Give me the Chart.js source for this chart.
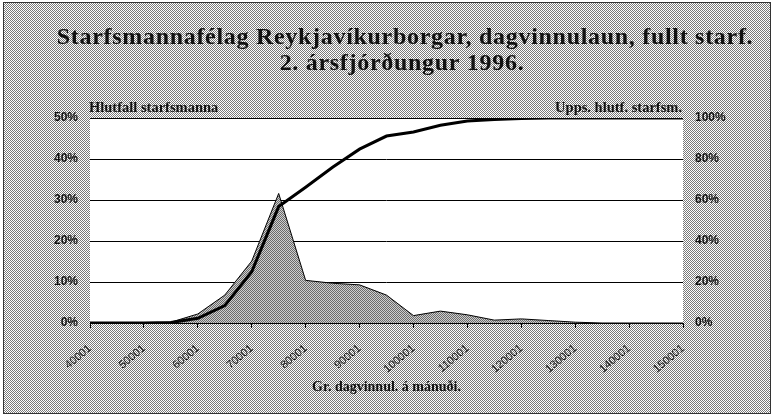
<!DOCTYPE html>
<html>
<head>
<meta charset="utf-8">
<script src="https://cdn.jsdelivr.net/npm/chart.js@4"></script>
<style>
  html, body { margin: 0; padding: 0; background: #fff; }
  canvas { display: block; }
</style>
</head>
<body>
<canvas id="c" width="774" height="416"></canvas>
<script>
// ---- data ----
const categories = ['40001','45001','50001','55001','60001','65001','70001','75001','80001','85001','90001','95001',
  '100001','105001','110001','115001','120001','125001','130001','135001','140001','145001','150001'];
const tickLabels = ['40001','50001','60001','70001','80001','90001','100001','110001','120001','130001','140001','150001'];
// Hlutfall starfsmanna (%) – area, left axis
const shareValues = [0, 0, 0, 0.2, 2.2, 6.8, 15.1, 31.6, 10.4, 9.7, 9.3, 6.8,
  1.8, 2.9, 2.0, 0.7, 1.0, 0.6, 0.2, 0, 0, 0, 0];
// Uppsafnað hlutfall starfsmanna (%) – line, right axis
const cumulativeValues = [0, 0, 0, 0.2, 2.3, 8.5, 25, 56.8, 66.2, 76, 84.8, 91.2,
  93.2, 96.5, 98.5, 99.3, 99.8, 100, 100, 100, 100, 100, 100];
const leftTicks = [0, 10, 20, 30, 40, 50];
const rightTicks = [0, 20, 40, 60, 80, 100];
const titleLines = ['Starfsmannafélag Reykjavíkurborgar, dagvinnulaun, fullt starf.', '2. ársfjórðungur 1996.'];
const leftAxisTitle = 'Hlutfall starfsmanna';
const rightAxisTitle = 'Upps. hlutf. starfsm.';
const xAxisTitle = 'Gr. dagvinnul. á mánuði.';

function makePattern(base, dot) {
  const cv = document.createElement('canvas');
  cv.width = 2; cv.height = 2;
  const x = cv.getContext('2d');
  x.fillStyle = base; x.fillRect(0, 0, 2, 2);
  x.fillStyle = dot; x.fillRect(0, 0, 1, 1); x.fillRect(1, 1, 1, 1);
  return x.createPattern(cv, 'repeat');
}
const bgPattern = makePattern('#ffffff', '#7a7a7a');
const areaPattern = makePattern('#cfcfcf', '#6a6a6a');

const serif = '"Liberation Serif", "Times New Roman", serif';
const sans = '"Liberation Sans", Arial, sans-serif';

const framePlugin = {
  id: 'frame',
  beforeDraw(chart) {
    const {ctx, chartArea: a} = chart;
    ctx.save();
    ctx.fillStyle = '#ffffff';
    ctx.fillRect(0, 0, chart.width, chart.height);
    ctx.fillStyle = bgPattern;
    ctx.fillRect(4, 3, 766, 410);
    ctx.strokeStyle = '#333';
    ctx.lineWidth = 1;
    ctx.strokeRect(3.5, 2.5, 767, 411);
    ctx.fillStyle = '#ffffff';
    ctx.fillRect(a.left, a.top, a.right - a.left, a.bottom - a.top);
    ctx.restore();
  },
  afterDraw(chart) {
    const {ctx, chartArea: a} = chart;
    ctx.save();
    ctx.fillStyle = '#111';
    ctx.textAlign = 'center';
    ctx.textBaseline = 'middle';
    ctx.font = 'bold 24px ' + serif;
    ctx.letterSpacing = '0.7px';
    ctx.fillText(titleLines[0], 405, 38);
    ctx.fillText(titleLines[1], 402, 64);
    ctx.letterSpacing = '0px';
    ctx.font = 'bold 14.5px ' + serif;
    ctx.textAlign = 'left';
    ctx.fillText(leftAxisTitle, a.left - 1, 108);
    ctx.textAlign = 'right';
    ctx.fillText(rightAxisTitle, a.right - 1, 108);
    ctx.restore();
  }
};

new Chart(document.getElementById('c'), {
  type: 'line',
  data: {
    labels: categories,
    datasets: [
      {
        label: rightAxisTitle,
        data: cumulativeValues,
        yAxisID: 'y1',
        borderColor: '#000',
        borderWidth: 3,
        pointRadius: 0,
        tension: 0,
        fill: false
      },
      {
        label: leftAxisTitle,
        data: shareValues,
        yAxisID: 'y',
        borderColor: '#000',
        borderWidth: 1,
        backgroundColor: areaPattern,
        pointRadius: 0,
        tension: 0,
        fill: 'origin'
      }
    ]
  },
  options: {
    responsive: false,
    animation: false,
    devicePixelRatio: 1,
    layout: { padding: { top: 118, left: 0, right: 0, bottom: 0 } },
    plugins: {
      legend: { display: false },
      title: { display: false },
      tooltip: { enabled: false }
    },
    scales: {
      x: {
        type: 'category',
        offset: false,
        afterFit(s) { s.height = 93; },
        grid: {
          display: true,
          drawOnChartArea: false,
          drawTicks: true,
          tickLength: 5,
          color: (c) => (c.tick && tickLabels.includes(c.tick.label) ? '#000' : 'rgba(0,0,0,0)')
        },
        border: { display: true, color: '#000', width: 1 },
        ticks: {
          autoSkip: false,
          minRotation: 40,
          maxRotation: 40,
          padding: 14,
          color: '#111',
          font: { family: sans, size: 11 },
          callback(v, i) { const l = categories[i]; return tickLabels.includes(l) ? l : ''; }
        },
        title: {
          display: true,
          text: xAxisTitle,
          color: '#111',
          font: { family: serif, size: 14, weight: 'bold' },
          padding: { top: 0, bottom: 20 }
        }
      },
      y: {
        position: 'left',
        min: 0, max: 50,
        afterFit(s) { s.width = 90; },
        afterBuildTicks(s) { s.ticks = leftTicks.map(v => ({ value: v })); },
        grid: { color: '#000', lineWidth: 1, drawTicks: false },
        border: { display: false },
        ticks: {
          padding: 12,
          color: '#111',
          font: { family: sans, size: 12, weight: 'bold' },
          callback: (v) => v + '%'
        }
      },
      y1: {
        position: 'right',
        min: 0, max: 100,
        afterFit(s) { s.width = 91; },
        afterBuildTicks(s) { s.ticks = rightTicks.map(v => ({ value: v })); },
        grid: { display: false, drawTicks: false },
        border: { display: false },
        ticks: {
          padding: 12,
          color: '#111',
          font: { family: sans, size: 12, weight: 'bold' },
          callback: (v) => v + '%'
        }
      }
    }
  },
  plugins: [framePlugin]
});
</script>
</body>
</html>
